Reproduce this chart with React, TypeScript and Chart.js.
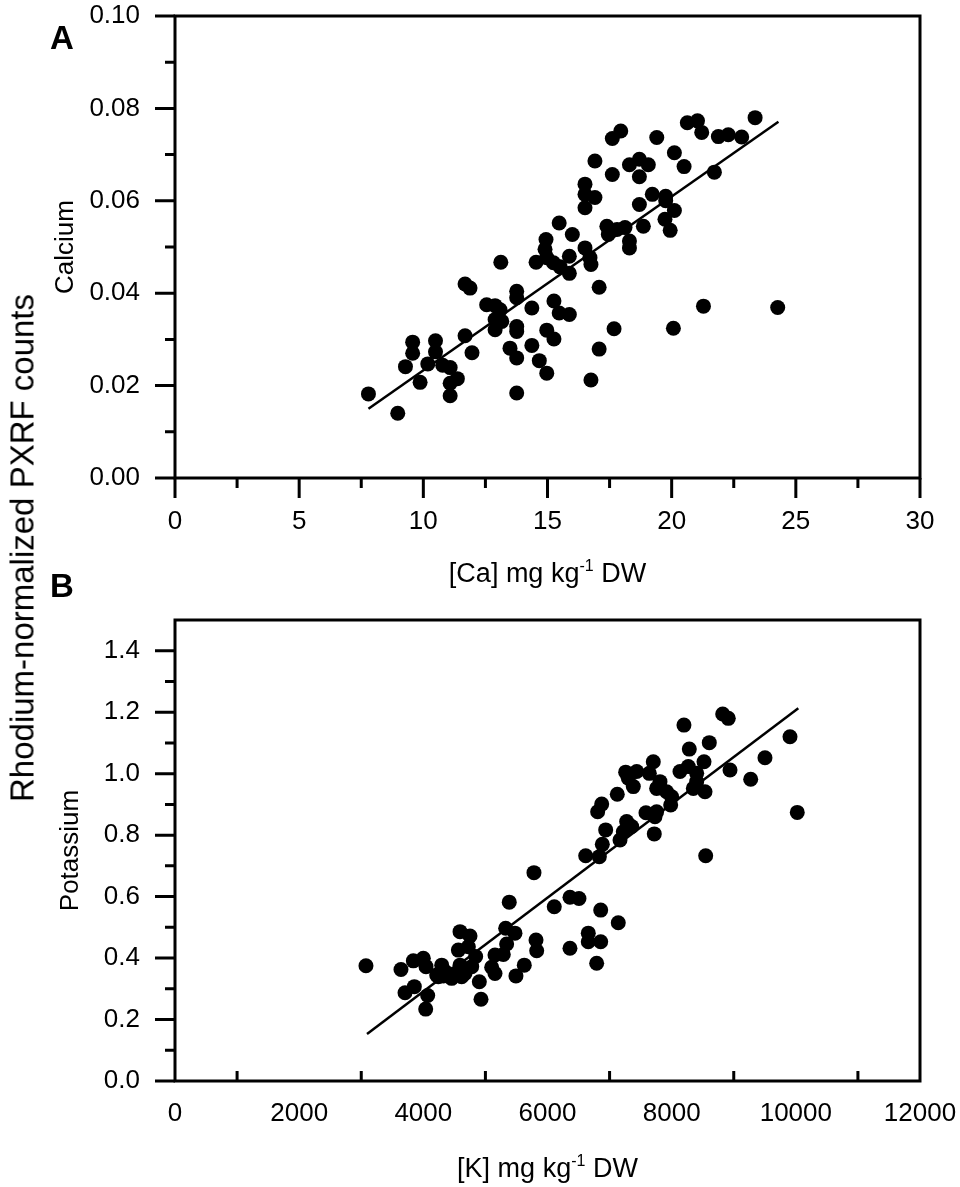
import { useEffect, useRef } from "react"
import { Chart, registerables } from "chart.js"

Chart.register(...registerables)

const FONT = "'Liberation Sans', Arial, Helvetica, sans-serif"
Chart.defaults.font.family = FONT
Chart.defaults.color = "#000"

// Panel A: calcium concentration vs normalized Ca counts
const caConc = [
  7.79, 8.97, 9.28, 9.57, 9.57, 9.87, 10.18, 10.49, 10.49, 10.78, 11.08, 11.37, 11.08, 11.08,
  11.68, 11.96, 11.68, 11.88, 12.55, 12.89, 13.09, 12.89, 13.16, 12.89, 13.12, 13.76, 13.76,
  13.76, 13.76, 13.76, 13.49, 13.76, 14.37, 14.37, 14.67, 14.97, 14.97, 15.26, 15.26, 15.47,
  15.88, 14.54, 14.94, 14.9, 14.97, 15.24, 15.51, 15.88, 15.88, 15.47, 16.0, 16.51, 16.71,
  16.75, 16.51, 16.51, 16.91, 16.51, 16.91, 17.39, 17.45, 17.08, 17.68, 17.08, 16.75, 23.36,
  20.63, 21.04, 21.21, 21.88, 22.28, 22.82, 17.95, 17.61, 19.4, 20.11, 20.5, 21.72, 17.61,
  18.3, 18.7, 19.06, 18.7, 19.22, 19.76, 19.76, 20.11, 18.7, 19.73, 19.94, 18.86, 18.12,
  17.8, 18.3, 18.3, 21.28, 24.27, 20.07,
]
const caCounts = [
  0.0182, 0.014, 0.0241, 0.0294, 0.027, 0.0207, 0.0247, 0.0297, 0.0273, 0.0244, 0.0239,
  0.0215, 0.0205, 0.0178, 0.0308, 0.0271, 0.042, 0.0411, 0.0375, 0.0373, 0.0364, 0.0343,
  0.0339, 0.0321, 0.0467, 0.0404, 0.039, 0.0328, 0.0317, 0.0184, 0.0281, 0.026, 0.0368,
  0.0287, 0.0254, 0.0227, 0.032, 0.0301, 0.0383, 0.0357, 0.0354, 0.0467, 0.0516, 0.0495,
  0.0477, 0.0466, 0.0457, 0.0443, 0.048, 0.0552, 0.0527, 0.0498, 0.0477, 0.0462, 0.0636,
  0.0614, 0.0607, 0.0585, 0.0686, 0.0545, 0.0527, 0.0413, 0.0323, 0.0279, 0.0212, 0.078,
  0.0769, 0.0773, 0.0748, 0.0739, 0.0743, 0.0738, 0.0751, 0.0735, 0.0737, 0.0704, 0.0674,
  0.0662, 0.0657, 0.0678, 0.069, 0.0678, 0.0652, 0.0614, 0.061, 0.06, 0.0579, 0.0592, 0.056,
  0.0536, 0.0545, 0.0542, 0.0538, 0.0513, 0.0498, 0.0372, 0.0369, 0.0324,
]
const caFitX = [7.79, 24.3]
const caFitY = [0.015, 0.0771]
const caXTicks = [0, 5, 10, 15, 20, 25, 30]
const caXMinor = [2.5, 7.5, 12.5, 17.5, 22.5, 27.5]
const caYTicks = [0, 0.02, 0.04, 0.06, 0.08, 0.1]
const caYMinor = [0.01, 0.03, 0.05, 0.07, 0.09]

// Panel B: potassium concentration vs normalized K counts
const kConc = [
  3076, 3640, 3705, 3855, 3839, 4000, 4043, 4070, 4038, 4215, 4296, 4322, 4429, 4510, 4591,
  4591, 4752, 4564, 4725, 4671, 4779, 4843, 4902, 4929, 5101, 5154, 5154, 5288, 5342, 5326,
  5476, 5384, 5492, 5626, 5782, 5815, 5826, 6109, 6362, 6362, 4241, 4456, 4617, 4349, 6792,
  6657, 6657, 6857, 7140, 6857, 6507, 6615, 6835, 6883, 6937, 7168, 7221, 7275, 7356, 7720,
  6808, 6873, 7124, 7586, 7758, 7731, 7259, 7437, 7302, 7382, 7640, 7704, 7758, 7812, 7919,
  8000, 7984, 8134, 8268, 8403, 8349, 8403, 8537, 8521, 8940, 9273, 8548, 8822, 8912, 8198,
  8606, 8284, 9503, 9906, 10023,
]
const kCounts = [
  0.375, 0.363, 0.287, 0.307, 0.391, 0.399, 0.372, 0.278, 0.234, 0.345, 0.377, 0.342, 0.345,
  0.35, 0.377, 0.486, 0.472, 0.426, 0.437, 0.35, 0.372, 0.405, 0.323, 0.266, 0.37, 0.41, 0.35,
  0.412, 0.446, 0.497, 0.481, 0.582, 0.342, 0.377, 0.678, 0.459, 0.424, 0.567, 0.598, 0.432,
  0.339, 0.334, 0.339, 0.356, 0.383, 0.481, 0.453, 0.453, 0.515, 0.556, 0.594, 0.733, 0.73,
  0.77, 0.817, 0.784, 0.811, 0.844, 0.828, 0.804, 0.876, 0.901, 0.933, 0.873, 0.876, 0.86,
  1.005, 1.007, 0.985, 0.958, 1.001, 1.039, 0.952, 0.974, 0.941, 0.925, 0.898, 1.007, 1.023,
  1.001, 0.952, 0.974, 0.941, 1.039, 1.012, 0.982, 0.733, 1.194, 1.18, 1.158, 1.101, 1.08,
  1.052, 1.12, 0.874,
]
const kFitX = [3093, 10040]
const kFitY = [0.153, 1.213]
const kXTicks = [0, 2000, 4000, 6000, 8000, 10000, 12000]
const kXMinor = [1000, 3000, 5000, 7000, 9000, 11000]
const kYTicks = [0, 0.2, 0.4, 0.6, 0.8, 1.0, 1.2, 1.4]
const kYMinor = [0.1, 0.3, 0.5, 0.7, 0.9, 1.1, 1.3]

type PanelCfg = {
  xs: number[]
  ys: number[]
  fitX: number[]
  fitY: number[]
  xMin: number
  xMax: number
  yMin: number
  yMax: number
  xTicks: number[]
  xMinor: number[]
  yTicks: number[]
  yMinor: number[]
  xMajorMarks: boolean
  xInward: boolean
  xDigits: number
  yDigits: number
  yTitle: string
  yTitlePad: number
  xLabelPad: number
  padTop: number
  xAxisHeight: number
}

const panelA: PanelCfg = {
  xs: caConc, ys: caCounts, fitX: caFitX, fitY: caFitY,
  xMin: 0, xMax: 30, yMin: 0, yMax: 0.1,
  xTicks: caXTicks, xMinor: caXMinor, yTicks: caYTicks, yMinor: caYMinor,
  xMajorMarks: true, xInward: false, xDigits: 0, yDigits: 2,
  yTitle: "Calcium", yTitlePad: 50, xLabelPad: 28, padTop: 16, xAxisHeight: 122,
}

const panelB: PanelCfg = {
  xs: kConc, ys: kCounts, fitX: kFitX, fitY: kFitY,
  xMin: 0, xMax: 12000, yMin: 0, yMax: 1.5,
  xTicks: kXTicks, xMinor: kXMinor, yTicks: kYTicks, yMinor: kYMinor,
  xMajorMarks: false, xInward: true, xDigits: 0, yDigits: 1,
  yTitle: "Potassium", yTitlePad: 55, xLabelPad: 17, padTop: 20, xAxisHeight: 106,
}

const MAJOR = 20
const MINOR = 10

function ScatterPanel({ cfg, top, height }: { cfg: PanelCfg; top: number; height: number }) {
  const canvasRef = useRef<HTMLCanvasElement | null>(null)
  const chartRef = useRef<Chart | null>(null)

  useEffect(() => {
    if (!canvasRef.current) return
    chartRef.current?.destroy()

    // frame + tick marks drawn by hand (Chart.js has no minor ticks / inward ticks)
    const frame = {
      id: "frame",
      afterDraw(chart: Chart) {
        const { ctx, chartArea: a } = chart
        const sx = chart.scales.x
        const sy = chart.scales.y
        ctx.save()
        ctx.strokeStyle = "#000"
        ctx.lineWidth = 3
        ctx.lineCap = "butt"
        ctx.beginPath()
        const xMark = (v: number, len: number) => {
          const px = sx.getPixelForValue(v)
          ctx.moveTo(px, a.bottom)
          ctx.lineTo(px, cfg.xInward ? a.bottom - len : a.bottom + len)
        }
        if (cfg.xMajorMarks) cfg.xTicks.forEach((v) => xMark(v, MAJOR))
        cfg.xMinor.forEach((v) => xMark(v, MINOR))
        const yMark = (v: number, len: number) => {
          const py = sy.getPixelForValue(v)
          ctx.moveTo(a.left, py)
          ctx.lineTo(a.left - len, py)
        }
        cfg.yTicks.forEach((v) => yMark(v, MAJOR))
        cfg.yMinor.forEach((v) => yMark(v, MINOR))
        ctx.stroke()
        ctx.strokeRect(a.left, a.top, a.right - a.left, a.bottom - a.top)
        ctx.restore()
      },
    }

    chartRef.current = new Chart(canvasRef.current, {
      type: "scatter",
      data: {
        datasets: [
          {
            data: cfg.xs.map((x, i) => ({ x, y: cfg.ys[i] })),
            backgroundColor: "#000",
            borderWidth: 0,
            pointRadius: 7.5,
            pointHoverRadius: 7.5,
          },
          {
            data: cfg.fitX.map((x, i) => ({ x, y: cfg.fitY[i] })),
            showLine: true,
            borderColor: "#000",
            borderWidth: 2.5,
            pointRadius: 0,
            fill: false,
          },
        ],
      },
      options: {
        animation: false,
        responsive: true,
        maintainAspectRatio: false,
        events: [],
        layout: { padding: { top: cfg.padTop, right: 40, left: 0, bottom: 0 } },
        plugins: { legend: { display: false }, tooltip: { enabled: false } },
        scales: {
          x: {
            type: "linear",
            min: cfg.xMin,
            max: cfg.xMax,
            afterBuildTicks: (s) => {
              s.ticks = cfg.xTicks.map((value) => ({ value }))
            },
            afterFit: (s) => {
              s.height = cfg.xAxisHeight
              s.paddingLeft = 0
              s.paddingRight = 0
              s.paddingTop = 0
              s.paddingBottom = 0
            },
            ticks: {
              autoSkip: false,
              maxRotation: 0,
              padding: cfg.xLabelPad,
              color: "#000",
              font: { size: 26 },
              callback: (v) => Number(v).toFixed(cfg.xDigits),
            },
            grid: { display: false, drawTicks: false },
            border: { display: false },
          },
          y: {
            type: "linear",
            min: cfg.yMin,
            max: cfg.yMax,
            afterBuildTicks: (s) => {
              s.ticks = cfg.yTicks.map((value) => ({ value }))
            },
            afterFit: (s) => {
              s.width = 175
              s.paddingLeft = 0
              s.paddingRight = 0
              s.paddingTop = 0
              s.paddingBottom = 0
            },
            ticks: {
              autoSkip: false,
              padding: 35,
              color: "#000",
              font: { size: 26 },
              callback: (v) => Number(v).toFixed(cfg.yDigits),
            },
            title: {
              display: true,
              text: cfg.yTitle,
              color: "#000",
              font: { size: 26 },
              padding: { top: cfg.yTitlePad, bottom: 0 },
            },
            grid: { display: false, drawTicks: false },
            border: { display: false },
          },
        },
      },
      plugins: [frame],
    })

    return () => {
      chartRef.current?.destroy()
      chartRef.current = null
    }
  }, [cfg])

  return (
    <div style={{ position: "absolute", left: 0, top, width: 960, height }}>
      <canvas ref={canvasRef} />
    </div>
  )
}

const sup: React.CSSProperties = { fontSize: 16, position: "relative", top: -11 }
const panelLetter: React.CSSProperties = {
  position: "absolute",
  left: 62,
  fontSize: 33,
  fontWeight: "bold",
  lineHeight: "33px",
  transform: "translateX(-50%)",
}

export default function App() {
  return (
    <div
      style={{
        position: "absolute",
        left: 0,
        top: 0,
        width: 960,
        height: 1187,
        background: "#fff",
        color: "#000",
        fontFamily: FONT,
        overflow: "hidden",
      }}
    >
      <ScatterPanel cfg={panelA} top={0} height={600} />
      <ScatterPanel cfg={panelB} top={600} height={587} />

      <div style={{ ...panelLetter, top: 21 }}>A</div>
      <div style={{ ...panelLetter, top: 569 }}>B</div>

      <div
        style={{
          position: "absolute",
          left: 22,
          top: 548,
          fontSize: 33,
          lineHeight: "33px",
          whiteSpace: "nowrap",
          transform: "translate(-50%, -50%) rotate(-90deg)",
        }}
      >
        Rhodium-normalized PXRF counts
      </div>

      <div style={{ position: "absolute", left: 175, width: 745, top: 560, textAlign: "center", fontSize: 27, lineHeight: "27px", whiteSpace: "nowrap" }}>
        [Ca] mg kg<span style={sup}>-1</span> DW
      </div>
      <div style={{ position: "absolute", left: 175, width: 745, top: 1155, textAlign: "center", fontSize: 27, lineHeight: "27px", whiteSpace: "nowrap" }}>
        [K] mg kg<span style={sup}>-1</span> DW
      </div>
    </div>
  )
}
